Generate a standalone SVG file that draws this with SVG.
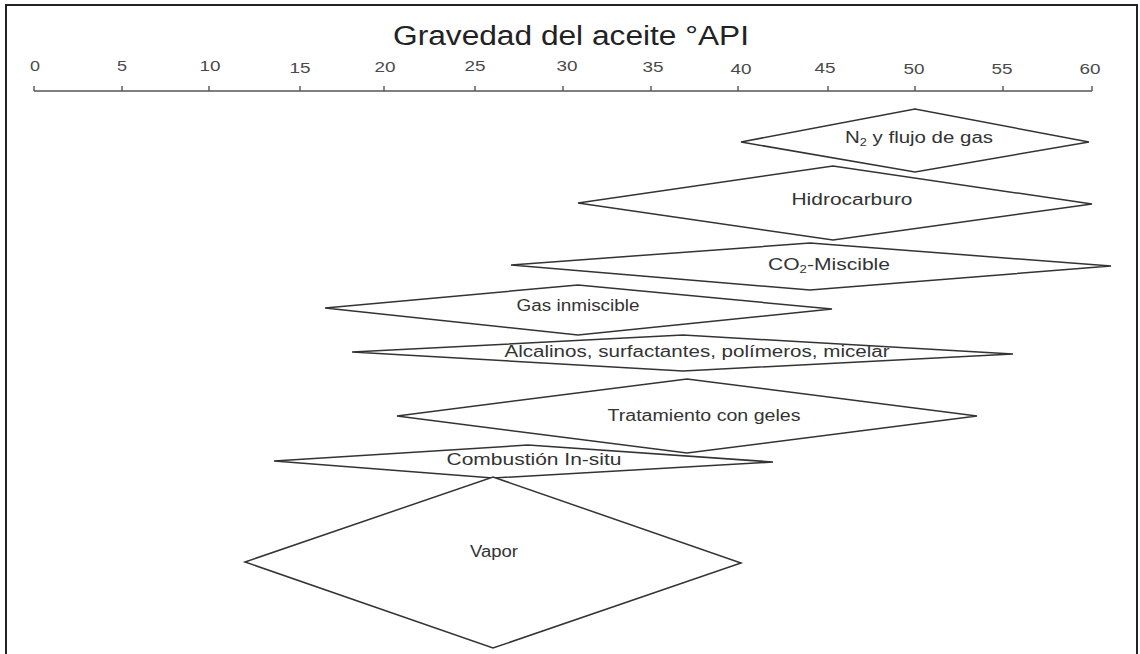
<svg xmlns="http://www.w3.org/2000/svg" width="1140" height="654" viewBox="0 0 1140 654">
<style>
.frame{fill:#fff;stroke:#222;stroke-width:2}
.ax{fill:none;stroke:#555;stroke-width:1.4}
.tk{font-family:"Liberation Sans",Arial,sans-serif;font-size:15px;fill:#4a4a4a;text-anchor:middle}
.title{font-family:"Liberation Sans",Arial,sans-serif;font-size:27px;fill:#222;text-anchor:middle}
.d{fill:#fff;stroke:#333;stroke-width:1.5;stroke-linejoin:miter}
.lb{font-family:"Liberation Sans",Arial,sans-serif;font-size:16px;fill:#333;text-anchor:middle}
</style>
<rect class="frame" x="6" y="5" width="1131" height="660"/>
<g id="axis">
<text class="title" x="571" y="45" textLength="356" lengthAdjust="spacingAndGlyphs">Gravedad del aceite °API</text>
<path class="ax" d="M34 91H1092M34 86V91M122 86V91M209 86V91M300 86V91M384 86V91M475 86V91M563 86V91M651 86V91M738 86V91M828 86V91M915 86V91M1003 86V91M1092 86V91"/>
<text class="tk" x="35" y="71" textLength="10" lengthAdjust="spacingAndGlyphs">0</text>
<text class="tk" x="122" y="71" textLength="10" lengthAdjust="spacingAndGlyphs">5</text>
<text class="tk" x="210" y="71" textLength="21" lengthAdjust="spacingAndGlyphs">10</text>
<text class="tk" x="300" y="73" textLength="21" lengthAdjust="spacingAndGlyphs">15</text>
<text class="tk" x="385" y="72" textLength="21" lengthAdjust="spacingAndGlyphs">20</text>
<text class="tk" x="475" y="71" textLength="21" lengthAdjust="spacingAndGlyphs">25</text>
<text class="tk" x="567" y="71" textLength="21" lengthAdjust="spacingAndGlyphs">30</text>
<text class="tk" x="653" y="72" textLength="21" lengthAdjust="spacingAndGlyphs">35</text>
<text class="tk" x="741" y="74" textLength="21" lengthAdjust="spacingAndGlyphs">40</text>
<text class="tk" x="825" y="73" textLength="21" lengthAdjust="spacingAndGlyphs">45</text>
<text class="tk" x="914" y="74" textLength="21" lengthAdjust="spacingAndGlyphs">50</text>
<text class="tk" x="1002" y="74" textLength="21" lengthAdjust="spacingAndGlyphs">55</text>
<text class="tk" x="1090" y="74" textLength="21" lengthAdjust="spacingAndGlyphs">60</text>
</g>
<g id="connectors"></g>
<g id="n2">
<polygon class="d" points="741,142 915,109 1089,142 915,172"/>
<text class="lb" x="919" y="143" textLength="148" lengthAdjust="spacingAndGlyphs">N<tspan font-size="10" dy="3">2</tspan><tspan dy="-3"> y flujo de gas</tspan></text>
</g>
<g id="hidrocarburo">
<polygon class="d" points="578,203 833,166 1092,204 833,240"/>
<text class="lb" x="852" y="205" textLength="121" lengthAdjust="spacingAndGlyphs">Hidrocarburo</text>
</g>
<g id="co2">
<polygon class="d" points="511,265 810,243 1111,266 810,290"/>
<text class="lb" x="829" y="270" textLength="122" lengthAdjust="spacingAndGlyphs">CO<tspan font-size="10" dy="3">2</tspan><tspan dy="-3">-Miscible</tspan></text>
</g>
<g id="gas-inmiscible">
<polygon class="d" points="325,308 578,285 832,309 578,335"/>
<text class="lb" x="578" y="311" textLength="123" lengthAdjust="spacingAndGlyphs">Gas inmiscible</text>
</g>
<g id="alcalinos">
<polygon class="d" points="352,352 683,335 1013,354 683,371"/>
<text class="lb" x="697" y="357" textLength="385" lengthAdjust="spacingAndGlyphs">Alcalinos, surfactantes, polímeros, micelar</text>
</g>
<g id="geles">
<polygon class="d" points="397,416 687,379 977,416 687,453"/>
<text class="lb" x="704" y="421" textLength="193" lengthAdjust="spacingAndGlyphs">Tratamiento con geles</text>
</g>
<g id="combustion">
<polygon class="d" points="274,461 528,445 773,462 493,478"/>
<text class="lb" x="534" y="465" textLength="175" lengthAdjust="spacingAndGlyphs">Combustión In-situ</text>
</g>
<g id="vapor">
<polygon class="d" points="245,562 493,477 741,563 493,648"/>
<text class="lb" x="494" y="557" textLength="48" lengthAdjust="spacingAndGlyphs">Vapor</text>
</g>
</svg>
